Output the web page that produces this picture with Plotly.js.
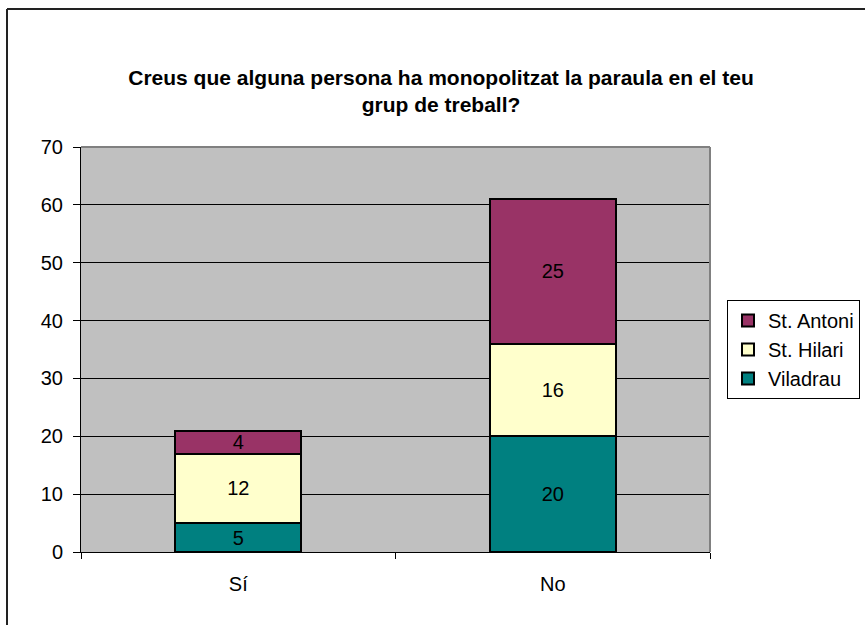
<!DOCTYPE html>
<html>
<head>
<meta charset="utf-8">
<script src="https://cdn.plot.ly/plotly-3.0.1.min.js"></script>
<style>
  body { margin: 0; background: #fff; }
  #plot { width: 865px; height: 625px; }
</style>
</head>
<body>
<div id="plot"></div>
<script>
document.addEventListener('DOMContentLoaded', function () {

    // Dades
    var categories = ['Sí', 'No'];
    var viladrau = [5, 20];
    var stHilari = [12, 16];
    var stAntoni = [4, 25];

    var font = 'Arial, "Liberation Sans", sans-serif';

    function serie(name, values, color) {
        return {
            x: categories,
            y: values,
            type: 'bar',
            name: name,
            text: values.map(String),
            textposition: 'inside',
            insidetextanchor: 'middle',
            textangle: 0,
            constraintext: 'none',
            textfont: { family: font, size: 20, color: '#000' },
            hoverinfo: 'skip',
            marker: { color: color, line: { color: '#000', width: 2 } }
        };
    }

    var data = [
        serie('Viladrau', viladrau, '#008080'),
        serie('St. Hilari', stHilari, '#FFFFCC'),
        serie('St. Antoni', stAntoni, '#993366')
    ];

    // conversió de píxels a coordenades paper
    var px = function (x) { return (x - 81) / 629; };
    var py = function (y) { return (552 - y) / 405; };

    var layout = {
        width: 865,
        height: 625,
        margin: { l: 81, r: 155, t: 147, b: 73 },
        paper_bgcolor: '#fff',
        plot_bgcolor: '#C0C0C0',
        barmode: 'stack',
        bargap: 0.6,
        showlegend: true,
        font: { family: font, size: 20, color: '#000' },
        title: {
            text: '<b>Creus que alguna persona ha monopolitzat la paraula en el teu<br>grup de treball?</b>',
            font: { family: font, size: 21, color: '#000' },
            xref: 'container',
            x: 441 / 865,
            xanchor: 'center',
            yref: 'container',
            y: 1 - 85 / 625,
            yanchor: 'top'
        },
        xaxis: {
            type: 'category',
            showgrid: false,
            showline: true,
            linecolor: '#000',
            linewidth: 1,
            ticks: 'outside',
            tickson: 'boundaries',
            ticklen: 6,
            tickcolor: '#000',
            ticklabelstandoff: 14,
            tickfont: { family: font, size: 20, color: '#000' },
            zeroline: false
        },
        yaxis: {
            range: [0, 70],
            dtick: 10,
            showgrid: true,
            gridcolor: '#000',
            gridwidth: 1,
            showline: true,
            linecolor: '#000',
            linewidth: 1,
            ticks: 'outside',
            ticklen: 7,
            tickcolor: '#000',
            ticklabelstandoff: 6,
            tickfont: { family: font, size: 20, color: '#000' },
            zeroline: false
        },
        legend: {
            x: 727 / 865,
            y: 1 - 300 / 625,
            xref: 'container',
            yref: 'container',
            xanchor: 'left',
            yanchor: 'top',
            traceorder: 'reversed',
            bgcolor: '#fff',
            bordercolor: '#000',
            borderwidth: 1,
            itemwidth: 30,
            font: { family: font, size: 20, color: '#000' }
        },
        shapes: [
            { type: 'line', xref: 'paper', yref: 'paper', x0: 0, x1: 1, y0: 1, y1: 1,
              line: { color: '#808080', width: 2 } },
            { type: 'line', xref: 'paper', yref: 'paper', x0: 1, x1: 1, y0: 0, y1: 1,
              line: { color: '#808080', width: 2 } },
            { type: 'line', xref: 'paper', yref: 'paper', x0: px(7), x1: px(866), y0: py(9), y1: py(9),
              line: { color: '#222', width: 2 } },
            { type: 'line', xref: 'paper', yref: 'paper', x0: px(7), x1: px(7), y0: py(9), y1: py(626),
              line: { color: '#222', width: 2 } }
        ]
    };

    Plotly.newPlot('plot', data, layout, { displayModeBar: false, staticPlot: true });
});
</script>
</body>
</html>
